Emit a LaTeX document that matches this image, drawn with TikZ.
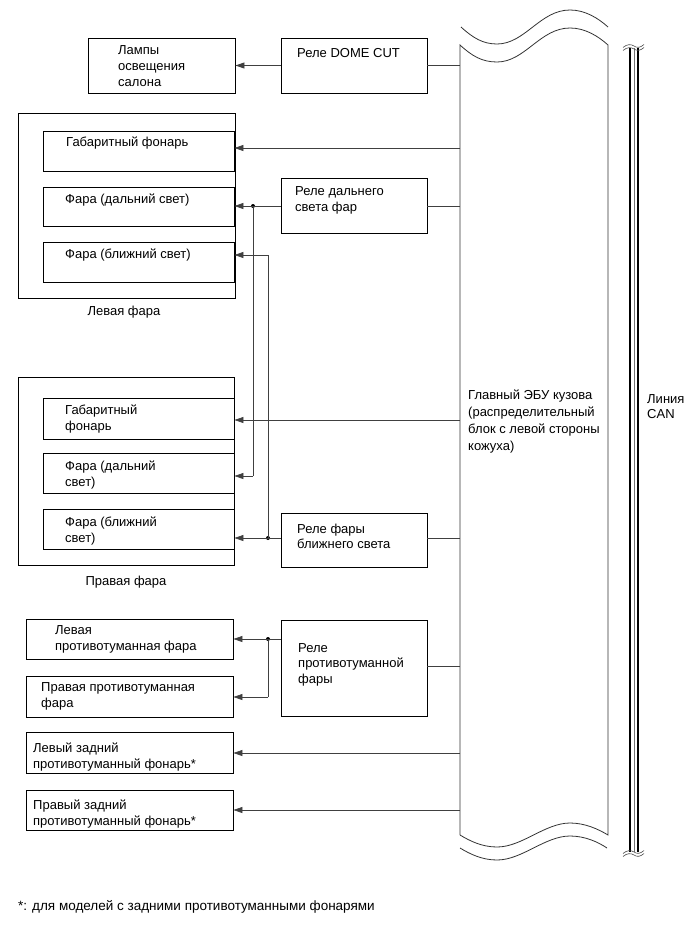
\documentclass[tikz,border=0pt]{standalone}
\usepackage{fontspec}
\setmainfont{Liberation Sans}
\usetikzlibrary{arrows.meta}
\begin{document}
\begin{tikzpicture}[x=1pt,y=-1pt,
  box/.style={draw=black, line width=0.9pt, inner sep=0pt},
  conn/.style={draw=black!75, line width=0.75pt},
  arr/.style={conn, -{Triangle[length=9pt,width=6pt]}},
  txt/.style={anchor=north west, inner sep=0pt, align=left, font=\fontsize{13}{15.7}\selectfont},
  ctxt/.style={anchor=north, inner sep=0pt, font=\fontsize{13}{15.7}\selectfont},
  jdot/.style={circle, fill=black, inner sep=0pt, minimum size=4pt},
  eculine/.style={draw=black!80, line width=0.8pt}
]
\useasboundingbox (0,0) rectangle (689,950);
\fill[white] (0,0) rectangle (689,950);

% ---- boxes ----
\node[box, minimum width=147pt, minimum height=55pt] (lamps) at (161.5,65.5) {};
\node[box, minimum width=146pt, minimum height=55pt] (dome) at (354,65.5) {};
\node[box, minimum width=217pt, minimum height=185pt] (lhead) at (126.5,205.5) {};
\node[box, minimum width=191pt, minimum height=40pt] (gabL) at (138.5,151) {};
\node[box, minimum width=191pt, minimum height=39pt] (hiL) at (138.5,206.5) {};
\node[box, minimum width=191pt, minimum height=40pt] (loL) at (138.5,262) {};
\node[box, minimum width=146pt, minimum height=55pt] (hirelay) at (354,205.5) {};
\node[box, minimum width=216pt, minimum height=188pt] (rhead) at (126,471) {};
\node[box, minimum width=191pt, minimum height=41pt] (gabR) at (138.5,418.5) {};
\node[box, minimum width=191pt, minimum height=40pt] (hiR) at (138.5,473) {};
\node[box, minimum width=191pt, minimum height=40pt] (loR) at (138.5,529) {};
\node[box, minimum width=146pt, minimum height=54pt] (lorelay) at (354,540) {};
\node[box, minimum width=207pt, minimum height=40pt] (fogL) at (129.5,639) {};
\node[box, minimum width=207pt, minimum height=41pt] (fogR) at (129.5,696.5) {};
\node[box, minimum width=146pt, minimum height=96pt] (fogrelay) at (354,668) {};
\node[box, minimum width=207pt, minimum height=41pt] (rearL) at (129.5,752.5) {};
\node[box, minimum width=207pt, minimum height=40pt] (rearR) at (129.5,810) {};

% ---- texts ----
\node[txt] (tlamps) at (118,45.5) {Лампы\\освещения\\салона};
\node[txt] (tdome) at (297,48) {Реле DOME CUT};
\node[txt] (tgabL) at (66,136.5) {Габаритный фонарь};
\node[txt] (thiL) at (65,193.5) {Фара (дальний свет)};
\node[txt] (tloL) at (65,248.5) {Фара (ближний свет)};
\node[txt] (thirelay) at (295,186.5) {Реле дальнего\\света фар};
\node[ctxt] (tlhead) at (124,306) {Левая фара};
\node[txt] (tgabR) at (65,405) {Габаритный\\фонарь};
\node[txt] (thiR) at (65,460.5) {Фара (дальний\\свет)};
\node[txt] (tloR) at (65,516.5) {Фара (ближний\\свет)};
\node[txt] (tlorelay) at (297,523.5) {Реле фары\\ближнего света};
\node[ctxt] (trhead) at (126,576) {Правая фара};
\node[txt] (tfogL) at (55,625.5) {Левая\\противотуманная фара};
\node[txt] (tfogR) at (41,682.5) {Правая противотуманная\\фара};
\node[txt] (tfogrelay) at (298,643) {Реле\\противотуманной\\фары};
\node[txt] (trearL) at (33,742.5) {Левый задний\\противотуманный фонарь*};
\node[txt] (trearR) at (33,799.5) {Правый задний\\противотуманный фонарь*};
\node[txt, font=\fontsize{13}{17}\selectfont] (tecu) at (468,389.5) {Главный ЭБУ кузова\\(распределительный\\блок с левой стороны\\кожуха)};
\node[txt] (tcan) at (647,394) {Линия\\CAN};
\node[txt, font=\fontsize{13.5}{16}\selectfont] (tnote) at (18,900.5) {*: для моделей с задними противотуманными фонарями};

% ---- ECU block ----
\coordinate (ecuL) at (460,450);
\draw[eculine] (460,835) -- (460,45)
  .. controls (472,56) and (482,62) .. (497,62)
  .. controls (525,62) and (540,28) .. (570,28)
  .. controls (585,28) and (598,36) .. (608,45)
  -- (608,835)
  .. controls (598,829) and (585,823) .. (570,823)
  .. controls (545,823) and (522,847) .. (497,847)
  .. controls (482,847) and (470,841) .. (460,835);
\draw[eculine] (461,27)
  .. controls (473,38) and (483,44) .. (497,44)
  .. controls (525,44) and (540,10) .. (570,10)
  .. controls (585,10) and (598,18) .. (608,27);
\draw[eculine] (460,848)
  .. controls (470,854) and (482,860) .. (497,860)
  .. controls (522,860) and (545,836) .. (570,836)
  .. controls (585,836) and (598,842) .. (607,848);

% ---- CAN line ----
\draw[line width=2pt] (629.8,48) -- (629.8,852);
\draw[line width=0.6pt, black!55] (633.8,48) -- (633.8,852);
\draw[line width=2pt] (638.3,48) -- (638.3,852);
\draw[black!70, line width=0.6pt] (623,47.5) .. controls (627,44) and (631,44) .. (634,46) .. controls (637,48) and (640,48) .. (644,44.5);
\draw[black!70, line width=0.6pt] (623,50.5) .. controls (627,47) and (631,47) .. (634,49) .. controls (637,51) and (640,51) .. (644,47.5);
\draw[black!70, line width=0.6pt] (623,853.5) .. controls (627,850) and (631,850) .. (634,852) .. controls (637,854) and (640,854) .. (644,850.5);
\draw[black!70, line width=0.6pt] (623,856.5) .. controls (627,853) and (631,853) .. (634,855) .. controls (637,857) and (640,857) .. (644,853.5);

% ---- junction dots ----
\node[jdot] (jhi) at (253,206) {};
\node[jdot] (jlo) at (268,538) {};
\node[jdot] (jfog) at (268,639) {};
\coordinate (jloTop) at (268,255);
\coordinate (jhiBot) at (253,476);
\coordinate (jfogBot) at (268,697);

% ---- connectors ----
\draw[arr] (dome.west |- lamps.east) -- (lamps.east);
\draw[conn] (dome.east) -- (ecuL |- dome.east);
\draw[arr] (ecuL |- 0,148) -- (gabL.east |- 0,148);
\draw[conn] (hirelay.west |- jhi) -- (jhi.center);
\draw[arr] (jhi.center) -- (hiL.east |- jhi);
\draw[conn] (hirelay.east |- jhi) -- (ecuL |- jhi);
\draw[conn] (jhi.center) -- (jhiBot);
\draw[arr] (jhiBot) -- (hiR.east |- jhiBot);
\draw[conn] (jlo.center) -- (jloTop);
\draw[arr] (jloTop) -- (loL.east |- jloTop);
\draw[conn] (lorelay.west |- jlo) -- (jlo.center);
\draw[arr] (jlo.center) -- (loR.east |- jlo);
\draw[conn] (lorelay.east |- jlo) -- (ecuL |- jlo);
\draw[arr] (ecuL |- 0,420) -- (gabR.east |- 0,420);
\draw[conn] (fogrelay.west |- jfog) -- (jfog.center);
\draw[arr] (jfog.center) -- (fogL.east |- jfog);
\draw[conn] (jfog.center) -- (jfogBot);
\draw[arr] (jfogBot) -- (fogR.east |- jfogBot);
\draw[conn] (fogrelay.east |- 0,666) -- (ecuL |- 0,666);
\draw[arr] (ecuL |- 0,753) -- (rearL.east |- 0,753);
\draw[arr] (ecuL |- 0,810) -- (rearR.east |- 0,810);
\end{tikzpicture}
\end{document}
